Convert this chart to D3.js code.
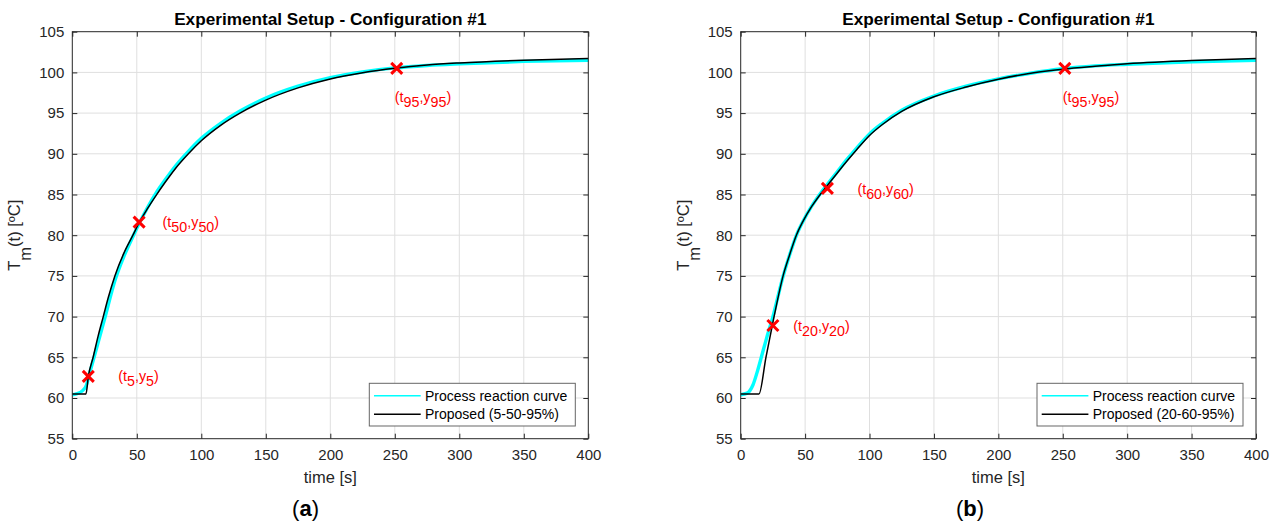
<!DOCTYPE html>
<html>
<head>
<meta charset="utf-8">
<script src="https://cdn.jsdelivr.net/npm/d3@7"></script>
<style>
  html, body { margin: 0; padding: 0; background: #ffffff; }
  svg { display: block; }
  text { font-family: "Liberation Sans", Arial, Helvetica, sans-serif; }
</style>
</head>
<body>
<svg id="chart" width="1277" height="532"></svg>
<script>
// ---------------- DATA ----------------
const xTicks = [0, 50, 100, 150, 200, 250, 300, 350, 400];
const yTicks = [55, 60, 65, 70, 75, 80, 85, 90, 95, 100, 105];
const titleText = "Experimental Setup - Configuration #1";
const xLabelText = "time [s]";
const legendNames = ["Process reaction curve"];

// Panel (a): measured process reaction curve (cyan)
const timeMeasA = [0, 3, 8, 11, 13, 16, 20, 25, 33, 40, 46, 53, 65, 72, 80, 90, 100, 115, 130, 150, 175, 200, 225, 250, 275, 300, 350, 400];
const tempMeasA = [60.4, 60.5, 60.9, 61.6, 62.8, 64.5, 66.8, 69.7, 74.4, 77.4, 79.5, 81.8, 85.2, 86.8, 88.5, 90.3, 91.9, 93.75, 95.25, 96.85, 98.3, 99.35, 100.05, 100.55, 100.85, 101.05, 101.35, 101.5];
// Panel (a): proposed model (5-50-95%) (black)
const timeModelA = [0, 10.6, 12.4, 16.3, 20, 24, 28, 33, 40, 47, 52, 58, 65, 72, 80, 90, 100, 115, 130, 150, 175, 200, 225, 250, 275, 300, 350, 400];
const tempModelA = [60.5, 60.5, 62.6, 65.1, 67.6, 70.0, 72.4, 75.0, 77.8, 80.0, 81.6, 83.2, 84.9, 86.5, 88.2, 90.0, 91.6, 93.5, 95.0, 96.6, 98.1, 99.2, 99.95, 100.5, 100.9, 101.16, 101.5, 101.7];
const pointsA = [
  {t: 12.4, y: 62.65, main: "t", sub1: "5", mid: ",y", sub2: "5"},
  {t: 51.8, y: 81.6,  main: "t", sub1: "50", mid: ",y", sub2: "50"},
  {t: 251.5, y: 100.5, main: "t", sub1: "95", mid: ",y", sub2: "95"}
];
const legendModelA = "Proposed (5-50-95%)";

// Panel (b): measured process reaction curve (cyan)
const timeMeasB = [0, 5, 9.5, 13, 16, 20, 25, 33, 38, 43, 48, 55, 61, 67, 75, 83, 90, 100, 110, 125, 150, 175, 200, 225, 250, 275, 300, 350, 400];
const tempMeasB = [60.4, 60.6, 61.6, 63.3, 65.0, 67.3, 70.0, 75.0, 77.6, 79.9, 81.6, 83.55, 84.95, 86.2, 87.8, 89.4, 90.7, 92.45, 93.75, 95.35, 97.1, 98.3, 99.2, 99.9, 100.45, 100.8, 101.0, 101.3, 101.5];
// Panel (b): proposed model (20-60-95%) (black)
const timeModelB = [0, 14.2, 19.6, 25.9, 32.9, 38, 43.2, 48, 55, 61, 67.3, 75, 83, 90, 100, 110, 125, 150, 175, 200, 225, 250, 275, 300, 350, 400];
const tempModelB = [60.5, 60.5, 65.0, 70.0, 75.0, 77.6, 80.0, 81.6, 83.5, 84.85, 86.1, 87.65, 89.2, 90.5, 92.25, 93.6, 95.2, 97.0, 98.2, 99.15, 99.9, 100.4, 100.75, 101.05, 101.45, 101.7];
const pointsB = [
  {t: 25.0, y: 68.9, main: "t", sub1: "20", mid: ",y", sub2: "20"},
  {t: 67.3, y: 85.75, main: "t", sub1: "60", mid: ",y", sub2: "60"},
  {t: 251.6, y: 100.5, main: "t", sub1: "95", mid: ",y", sub2: "95"}
];
const legendModelB = "Proposed (20-60-95%)";

// ---------------- DRAW ----------------
const svg = d3.select("#chart");
const TICK_COLOR = "#262626";
const FS_TICK = 15;
const FS_LABEL = 16.5;
const FS_ANN = 14.3;

function drawPanel(cfg) {
  const x = d3.scaleLinear().domain([0, 400]).range([cfg.x0, cfg.x1]);
  const y = d3.scaleLinear().domain([55, 105]).range([438.7, 31.7]);
  const g = svg.append("g");

  // grid
  g.append("g").selectAll("line").data(xTicks.slice(1, -1)).join("line")
    .attr("x1", d => x(d)).attr("x2", d => x(d))
    .attr("y1", y(55)).attr("y2", y(105))
    .attr("stroke", "#dfdfdf").attr("stroke-width", 1);
  g.append("g").selectAll("line").data(yTicks.slice(1, -1)).join("line")
    .attr("y1", d => y(d)).attr("y2", d => y(d))
    .attr("x1", x(0)).attr("x2", x(400))
    .attr("stroke", "#dfdfdf").attr("stroke-width", 1);

  // lines
  const lineMeas = d3.line().x((d, i) => x(cfg.tMeas[i])).y(d => y(d)).curve(d3.curveMonotoneX);
  const lineModel = d3.line().x((d, i) => x(cfg.tModel[i])).y(d => y(d)).curve(d3.curveMonotoneX);
  g.append("path").datum(cfg.vMeas).attr("d", lineMeas)
    .attr("fill", "none").attr("stroke", "#00ffff").attr("stroke-width", 3.4);
  g.append("path").datum(cfg.vModel).attr("d", lineModel)
    .attr("fill", "none").attr("stroke", "#000000").attr("stroke-width", 1.5);

  // markers and labels
  const s = 5.5;
  cfg.points.forEach((p, i) => {
    const px = x(p.t), py = y(p.y);
    g.append("path")
      .attr("d", `M${px - s},${py - s}L${px + s},${py + s}M${px - s},${py + s}L${px + s},${py - s}`)
      .attr("stroke", "#ff0000").attr("stroke-width", 3).attr("fill", "none");
    const off = cfg.labelOffsets[i];
    const t = g.append("text")
      .attr("x", px + off[0]).attr("y", py + off[1])
      .attr("fill", "#ff0000").attr("font-size", FS_ANN);
    t.append("tspan").text("(" + p.main);
    t.append("tspan").attr("dy", 5).text(p.sub1);
    t.append("tspan").attr("dy", -5).text(p.mid);
    t.append("tspan").attr("dy", 5).text(p.sub2);
    t.append("tspan").attr("dy", -5).text(")");
  });

  // axes
  const axB = d3.axisBottom(x).tickValues(xTicks).tickSizeInner(-5).tickSizeOuter(0).tickPadding(11);
  const axL = d3.axisLeft(y).tickValues(yTicks).tickSizeInner(-5).tickSizeOuter(0).tickPadding(8);
  const axT = d3.axisTop(x).tickValues(xTicks).tickSizeInner(-5).tickSizeOuter(0).tickFormat("");
  const axR = d3.axisRight(y).tickValues(yTicks).tickSizeInner(-5).tickSizeOuter(0).tickFormat("");
  [[axB, `translate(0,${y(55)})`], [axL, `translate(${x(0)},0)`], [axT, `translate(0,${y(105)})`], [axR, `translate(${x(400)},0)`]]
    .forEach(([ax, tr]) => {
      const a = g.append("g").attr("transform", tr).call(ax);
      a.select(".domain").remove();
      a.selectAll("line").attr("stroke", TICK_COLOR);
      a.selectAll("text").attr("fill", TICK_COLOR).attr("font-size", FS_TICK)
        .attr("font-family", "'Liberation Sans', Arial, sans-serif");
    });
  g.append("rect")
    .attr("x", x(0)).attr("y", y(105))
    .attr("width", x(400) - x(0)).attr("height", y(55) - y(105))
    .attr("fill", "none").attr("stroke", TICK_COLOR).attr("stroke-width", 1);

  // title
  g.append("text").attr("x", (cfg.x0 + cfg.x1) / 2).attr("y", 25)
    .attr("text-anchor", "middle").attr("font-weight", "bold").attr("font-size", 17.2)
    .attr("fill", "#000").text(titleText);

  // x label
  g.append("text").attr("x", (cfg.x0 + cfg.x1) / 2).attr("y", 483)
    .attr("text-anchor", "middle").attr("font-size", FS_LABEL).attr("fill", TICK_COLOR).text(xLabelText);

  // y label
  const yl = g.append("text")
    .attr("transform", `translate(${cfg.x0 - 52},${(y(55) + y(105)) / 2}) rotate(-90)`)
    .attr("text-anchor", "middle").attr("font-size", FS_LABEL).attr("fill", TICK_COLOR);
  yl.append("tspan").text("T");
  yl.append("tspan").attr("dy", 11).text("m");
  yl.append("tspan").attr("dy", -11).text("(t) [ºC]");

  // legend
  const lx = x(400) - 13 - 206, ly = y(55) - 12.7 - 42.7;
  const lg = g.append("g").attr("transform", `translate(${lx},${ly})`);
  lg.append("rect").attr("width", 206).attr("height", 42.7)
    .attr("fill", "#fff").attr("stroke", "#666").attr("stroke-width", 1);
  const entries = [{name: legendNames[0], color: "#00ffff"}, {name: cfg.legendModel, color: "#000"}];
  entries.forEach((e, i) => {
    const cy = 12.4 + i * 18.6;
    lg.append("line").attr("x1", 4.7).attr("x2", 51.4).attr("y1", cy).attr("y2", cy)
      .attr("stroke", e.color).attr("stroke-width", 1.5);
    lg.append("text").attr("x", 55.7).attr("y", cy + 5).attr("font-size", 14)
      .attr("fill", "#000").text(e.name);
  });

  // sub-figure label
  const sl = svg.append("text").attr("x", cfg.subX).attr("y", 516)
    .attr("text-anchor", "middle").attr("font-size", 22)
    .attr("font-family", "'Liberation Serif', 'DejaVu Serif', serif").attr("fill", "#000");
  sl.append("tspan").text("(");
  sl.append("tspan").attr("font-weight", "bold").text(cfg.subLetter);
  sl.append("tspan").text(")");
}

drawPanel({
  x0: 72.3, x1: 588.3,
  tMeas: timeMeasA, vMeas: tempMeasA, tModel: timeModelA, vModel: tempModelA,
  points: pointsA, labelOffsets: [[30, 5], [23.5, 5], [-2, 33.4]],
  legendModel: legendModelA, subX: 305.5, subLetter: "a"
});
drawPanel({
  x0: 740.7, x1: 1256,
  tMeas: timeMeasB, vMeas: tempMeasB, tModel: timeModelB, vModel: tempModelB,
  points: pointsB, labelOffsets: [[20.4, 5], [30, 6], [-2, 33.4]],
  legendModel: legendModelB, subX: 970, subLetter: "b"
});
</script>
</body>
</html>
